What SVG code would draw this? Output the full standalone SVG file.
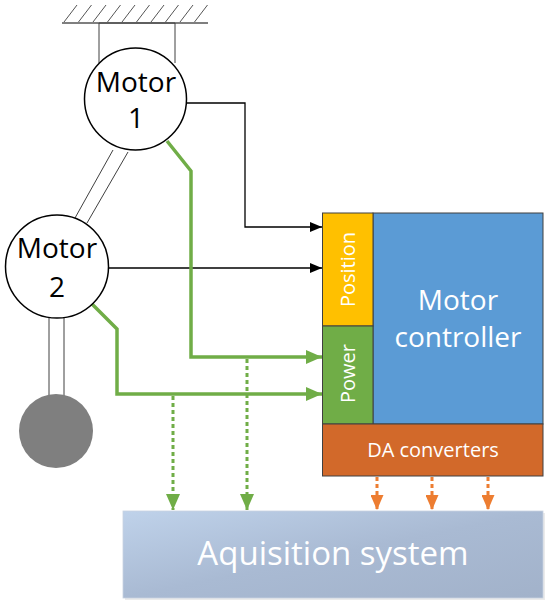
<svg xmlns="http://www.w3.org/2000/svg" width="550" height="605" viewBox="0 0 550 605">
<style>
.t{font-family:"Open Sans","Liberation Sans",sans-serif;text-anchor:middle}
.mt{font-size:28px;fill:#000}
.wt{fill:#fff}
.blk{stroke:#000;stroke-width:1.3;fill:none}
.grn{stroke:#70AD47;stroke-width:3.5;fill:none;stroke-linejoin:miter}
.gdot{stroke:#70AD47;stroke-width:3;fill:none;stroke-dasharray:4 3}
.odot{stroke:#ED7D31;stroke-width:3;fill:none;stroke-dasharray:4 3}
.thin{stroke:#404040;stroke-width:1;fill:none}
.box{stroke:#404040;stroke-width:1}
</style>
<defs>
<marker id="ab" markerWidth="12" markerHeight="10" refX="12" refY="5" orient="auto" markerUnits="userSpaceOnUse"><path d="M0,0 L12,5 L0,10 Z" fill="#000"/></marker>
<marker id="ag" markerWidth="16" markerHeight="14" refX="16" refY="7" orient="auto" markerUnits="userSpaceOnUse"><path d="M0,0 L16,7 L0,14 Z" fill="#70AD47"/></marker>
<marker id="ao" markerWidth="15" markerHeight="13" refX="15" refY="6.5" orient="auto" markerUnits="userSpaceOnUse"><path d="M0,0 L15,6.5 L0,13 Z" fill="#ED7D31"/></marker>
<linearGradient id="acq" x1="0" y1="0" x2="1" y2="1"><stop offset="0" stop-color="#BFD2EA"/><stop offset="0.5" stop-color="#A9BAD3"/><stop offset="1" stop-color="#A2B2CA"/></linearGradient>
</defs>

<g id="ground">
<line x1="62" y1="23" x2="208" y2="23" stroke="#555" stroke-width="1.3"/>
<g stroke="#555" stroke-width="1">
<line x1="64" y1="22" x2="77" y2="5"/><line x1="78.5" y1="22" x2="91.5" y2="5"/><line x1="93" y1="22" x2="106" y2="5"/><line x1="107.5" y1="22" x2="120.5" y2="5"/><line x1="122" y1="22" x2="135" y2="5"/><line x1="136.5" y1="22" x2="149.5" y2="5"/><line x1="151" y1="22" x2="164" y2="5"/><line x1="165.5" y1="22" x2="178.5" y2="5"/><line x1="180" y1="22" x2="193" y2="5"/><line x1="194.5" y1="22" x2="207.5" y2="5"/>
</g>
<path d="M99,63 L99,23 L175,23 L175,63" class="thin"/>
</g>

<g id="links">
<line x1="113" y1="150" x2="75" y2="218" class="thin"/>
<line x1="128" y1="152" x2="87" y2="223" class="thin"/>
<line x1="49" y1="316" x2="49" y2="396" class="thin"/>
<line x1="64" y1="316" x2="64" y2="396" class="thin"/>
</g>

<g id="connectors">
<path d="M187,103 L245,103 L245,227 L322,227" class="blk" marker-end="url(#ab)"/>
<path d="M108,268 L322,268" class="blk" marker-end="url(#ab)"/>
<path d="M167,141 L191,171 L191,357 L322,357" class="grn" marker-end="url(#ag)"/>
<path d="M92,304 L117,329 L117,394 L322,394" class="grn" marker-end="url(#ag)"/>
<path d="M173,396 L173,510" class="gdot" marker-end="url(#ag)"/>
<path d="M247,359 L247,510" class="gdot" marker-end="url(#ag)"/>
<path d="M377,477 L377,510" class="odot" marker-end="url(#ao)"/>
<path d="M432,477 L432,510" class="odot" marker-end="url(#ao)"/>
<path d="M488,477 L488,510" class="odot" marker-end="url(#ao)"/>
</g>

<g id="motor1">
<circle cx="135.5" cy="99" r="51" fill="#fff" stroke="#000" stroke-width="1.5"/>
<text x="136" y="92" class="t mt">Motor</text>
<text x="136" y="128" class="t mt">1</text>
</g>

<g id="motor2">
<circle cx="57" cy="266.5" r="51.5" fill="#fff" stroke="#000" stroke-width="1.5"/>
<text x="57" y="258" class="t mt">Motor</text>
<text x="57" y="297" class="t mt">2</text>
</g>

<g id="weight">
<circle cx="56" cy="431" r="37" fill="#7F7F7F"/>
</g>

<g id="controller">
<rect x="373" y="213" width="170" height="211" fill="#5B9BD5" class="box"/>
<text x="458" y="310" class="t wt" font-size="28">Motor</text>
<text x="458" y="347" class="t wt" font-size="28">controller</text>
</g>

<g id="position">
<rect x="322.5" y="213" width="50.5" height="113" fill="#FFC000" class="box"/>
<text transform="translate(355,269.5) rotate(-90)" x="0" y="0" class="t wt" font-size="20">Position</text>
</g>

<g id="power">
<rect x="322.5" y="326" width="50.5" height="98" fill="#70AD47" class="box"/>
<text transform="translate(355,373.5) rotate(-90)" x="0" y="0" class="t wt" font-size="20">Power</text>
</g>

<g id="da">
<rect x="322.5" y="424" width="220.5" height="52" fill="#D2692A" class="box"/>
<text x="433" y="457" class="t wt" font-size="20">DA converters</text>
</g>

<g id="acquisition">
<rect x="125" y="513" width="420" height="87" fill="#000" opacity="0.08"/>
<rect x="123" y="511" width="420" height="87" fill="url(#acq)" stroke="#C9D3E0" stroke-width="0.8"/>
<text x="333" y="565" class="t wt" font-size="33">Aquisition system</text>
</g>
</svg>
